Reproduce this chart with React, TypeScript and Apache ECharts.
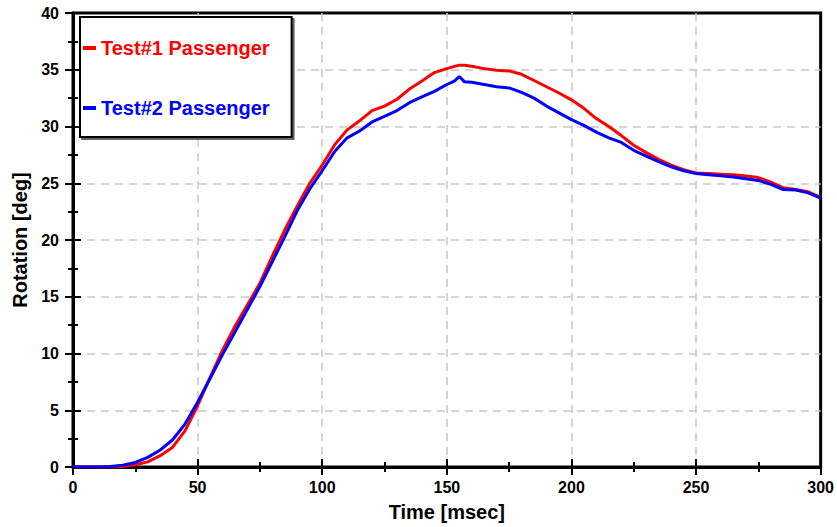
import React, { useEffect, useRef } from "react";
import * as echarts from "echarts";

const timeMs = [0, 5, 10, 15, 20, 25, 30, 35, 40, 45, 50, 55, 60, 65, 70, 75, 80, 85, 90, 95, 100, 105, 110, 115, 120, 125, 130, 135, 140, 145, 150, 153, 155, 157, 160, 165, 170, 175, 180, 185, 190, 195, 200, 205, 210, 215, 220, 225, 230, 235, 240, 245, 250, 255, 260, 265, 270, 275, 280, 285, 290, 295, 300];

const test1 = [0, 0, 0, 0, 0.05, 0.2, 0.45, 1.0, 1.75, 3.2, 5.4, 7.9, 10.3, 12.4, 14.3, 16.2, 18.6, 20.9, 23.0, 25.0, 26.6, 28.4, 29.7, 30.5, 31.4, 31.8, 32.4, 33.3, 34.0, 34.75, 35.1, 35.3, 35.4, 35.4, 35.3, 35.1, 34.95, 34.9, 34.6, 34.05, 33.5, 32.95, 32.35, 31.6, 30.7, 30.0, 29.2, 28.35, 27.7, 27.1, 26.6, 26.2, 25.9, 25.85, 25.8, 25.75, 25.65, 25.5, 25.1, 24.6, 24.45, 24.25, 23.75];

const test2 = [0, 0, 0, 0.05, 0.15, 0.4, 0.85, 1.5, 2.4, 3.8, 5.7, 7.8, 9.9, 11.9, 13.9, 15.9, 18.1, 20.3, 22.6, 24.5, 26.1, 27.8, 29.0, 29.6, 30.4, 30.9, 31.4, 32.1, 32.6, 33.1, 33.7, 34.0, 34.4, 33.95, 33.9, 33.7, 33.5, 33.4, 33.0, 32.5, 31.8, 31.2, 30.6, 30.1, 29.5, 29.0, 28.6, 27.9, 27.4, 26.9, 26.45, 26.1, 25.85, 25.75, 25.65, 25.55, 25.4, 25.25, 24.9, 24.45, 24.4, 24.15, 23.7];

const seriesNames = ["Test#1 Passenger", "Test#2 Passenger"];
const seriesColors = ["#ff0000", "#0000ff"];

export default function App() {
  const ref = useRef<HTMLDivElement>(null);
  useEffect(() => {
    if (!ref.current) return;
    const chart = echarts.init(ref.current, undefined, { renderer: "svg" });
    const font = "Arial, 'Liberation Sans', sans-serif";
    const labelStyle = { color: "#000", fontWeight: "bold" as const, fontSize: 16, fontFamily: font };
    const split = {
      show: true,
      showMinLine: false,
      showMaxLine: false,
      lineStyle: { color: "#c8c8c8", width: 1.5, type: [8, 6] as any },
    };
    const xBase = { type: "value" as const, min: 0, max: 300, interval: 50, position: "bottom" as const };
    const yBase = { type: "value" as const, min: 0, max: 40, interval: 5, position: "left" as const };
    chart.setOption({
      animation: false,
      backgroundColor: "#fff",
      grid: { left: 73, top: 13, right: 15, bottom: 59, show: true, borderColor: "#000", borderWidth: 3, containLabel: false },
      legend: {
        orient: "vertical",
        left: 80,
        top: 17,
        padding: [21, 22, 19, 3],
        itemGap: 40,
        itemWidth: 13,
        itemHeight: 4,
        icon: "rect",
        backgroundColor: "#fff",
        borderColor: "#000",
        borderWidth: 2,
        shadowColor: "rgba(0,0,0,0.6)",
        shadowOffsetX: 2,
        shadowOffsetY: 2,
        shadowBlur: 0,
        textStyle: { fontSize: 20, fontWeight: "bold", fontFamily: font, lineHeight: 20 },
        data: seriesNames.map((n, i) => ({ name: n, textStyle: { color: seriesColors[i] } })),
      },
      xAxis: [
        {
          ...xBase,
          name: "Time [msec]",
          nameLocation: "middle",
          nameGap: 35,
          nameTextStyle: { ...labelStyle, fontSize: 20 },
          axisLine: { show: true, onZero: false, lineStyle: { color: "#000", width: 3 } },
          axisTick: { show: true, inside: false, length: 8, lineStyle: { color: "#000", width: 2 } },
          minorTick: { show: true, splitNumber: 2, length: 5, lineStyle: { color: "#000", width: 2 } },
          axisLabel: { ...labelStyle, margin: 12 },
          splitLine: split,
        },
        {
          ...xBase,
          axisLine: { show: false },
          axisTick: { show: true, inside: true, length: 8, lineStyle: { color: "#000", width: 2 } },
          minorTick: { show: true, splitNumber: 2, length: 5, lineStyle: { color: "#000", width: 2 } },
          axisLabel: { show: false },
          splitLine: { show: false },
        },
      ],
      yAxis: [
        {
          ...yBase,
          name: "Rotation [deg]",
          nameLocation: "middle",
          nameGap: 43,
          nameTextStyle: { ...labelStyle, fontSize: 20 },
          axisLine: { show: true, onZero: false, lineStyle: { color: "#000", width: 3 } },
          axisTick: { show: true, inside: false, length: 8, lineStyle: { color: "#000", width: 2 } },
          minorTick: { show: true, splitNumber: 2, length: 5, lineStyle: { color: "#000", width: 2 } },
          axisLabel: { ...labelStyle, margin: 14 },
          splitLine: split,
        },
        {
          ...yBase,
          axisLine: { show: false },
          axisTick: { show: true, inside: true, length: 8, lineStyle: { color: "#000", width: 2 } },
          minorTick: { show: true, splitNumber: 2, length: 5, lineStyle: { color: "#000", width: 2 } },
          axisLabel: { show: false },
          splitLine: { show: false },
        },
      ],
      series: [test1, test2].map((vals, i) => ({
        name: seriesNames[i],
        type: "line",
        xAxisIndex: 0,
        yAxisIndex: 0,
        showSymbol: false,
        color: seriesColors[i],
        lineStyle: { color: seriesColors[i], width: 3 },
        data: timeMs.map((t, k) => [t, vals[k]]),
      })),
    });
    return () => chart.dispose();
  }, []);
  return <div ref={ref} style={{ position: "fixed", left: 0, top: 0, width: 837, height: 527 }} />;
}
